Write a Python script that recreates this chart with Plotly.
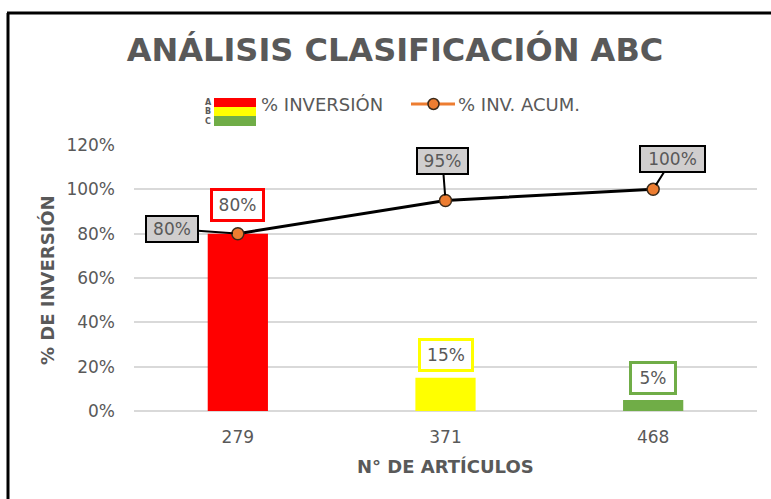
import plotly.graph_objects as go

# --- data ---
articulos = ["279", "371", "468"]
pct_inversion = [0.80, 0.15, 0.05]
pct_acumulado = [0.80, 0.95, 1.00]
clases = ["A", "B", "C"]
bar_colors = ["#FF0000", "#FFFF00", "#70AD47"]
y_ticks = [0, 0.2, 0.4, 0.6, 0.8, 1.0, 1.2]

# category slots on a linear axis
pos = list(range(len(articulos)))

W, H = 771, 499
L, R, T, B = 134, 14, 145, 88
PW, PH = W - L - R, H - T - B

def px(x):
    return (x - L) / PW

def py(y):
    return (H - B - y) / PH

GRAY = "#595959"
FONT = "DejaVu Sans"

fig = go.Figure()
fig.add_trace(go.Bar(
    x=pos, y=pct_inversion, marker=dict(color=bar_colors, line=dict(width=0)),
    width=0.29, name="% INVERSIÓN", showlegend=False,
))
fig.add_trace(go.Scatter(
    x=pos, y=pct_acumulado, mode="lines+markers", name="% INV. ACUM.",
    line=dict(color="black", width=3),
    marker=dict(color="#ED7D31", size=12, line=dict(color="#3a2a1a", width=1.5)),
    showlegend=False,
))

# labels on the bars
bar_shift = [12, 6, 5]
bar_box_w = [43, 44, 36]
for x, v, c, s, bw in zip(pos, pct_inversion, bar_colors, bar_shift, bar_box_w):
    fig.add_annotation(
        x=x, y=v, text=f"{v:.0%}", showarrow=False, xanchor="center", yanchor="bottom", yshift=s,
        width=bw, height=22, font=dict(family=FONT, size=17, color=GRAY),
        bgcolor="white", bordercolor=c, borderwidth=3, borderpad=3,
    )

# callout labels on the cumulative line
offsets = [(-66, -5), (-3, -39), (19, -30)]
line_box_w = [46, 45, 59]
for x, v, (ax, ay), bw in zip(pos, pct_acumulado, offsets, line_box_w):
    fig.add_annotation(
        x=x, y=v, text=f"{v:.0%}", showarrow=True, ax=ax, ay=ay,
        arrowhead=0, arrowwidth=2, arrowcolor="black", standoff=5,
        width=bw, height=20, font=dict(family=FONT, size=17, color=GRAY),
        bgcolor="#D0CECE", bordercolor="black", borderwidth=2, borderpad=2,
    )

shapes = []
# outer frame (left and top edges)
shapes.append(dict(type="line", xref="paper", yref="paper", x0=px(8), x1=px(8), y0=py(13), y1=py(H + 5),
                   line=dict(color="black", width=3)))
shapes.append(dict(type="line", xref="paper", yref="paper", x0=px(7), x1=px(W + 5), y0=py(13), y1=py(13),
                   line=dict(color="black", width=3)))

def text_at(x, y, text, size, xanchor="center", angle=0):
    fig.add_annotation(xref="paper", yref="paper", x=px(x), y=py(y), text=text, showarrow=False,
                       xanchor=xanchor, yanchor="middle", textangle=angle,
                       font=dict(family=FONT, size=size, color=GRAY))

# legend: stacked A/B/C swatch
sw_top = [98, 107, 116]
sw_bot = [107, 116, 126]
for c, t0, t1, letter in zip(bar_colors, sw_top, sw_bot, clases):
    shapes.append(dict(type="rect", xref="paper", yref="paper", x0=px(214), x1=px(256), y0=py(t1), y1=py(t0),
                       fillcolor=c, line=dict(width=0)))
    text_at(208, (t0 + t1) / 2, f"<b>{letter}</b>", 8)
text_at(259, 104, "% INVERSIÓN", 18, xanchor="left")

# legend: line with marker
shapes.append(dict(type="line", xref="paper", yref="paper", x0=px(411), x1=px(455), y0=py(104), y1=py(104),
                   line=dict(color="#ED7D31", width=3)))
shapes.append(dict(type="circle", xref="paper", yref="paper", x0=px(428), x1=px(439), y0=py(109.5), y1=py(98.5),
                   fillcolor="#ED7D31", line=dict(color="#3a2a1a", width=1.5)))
text_at(456, 104, "% INV. ACUM.", 18, xanchor="left")

# axis titles
text_at(47, 280, "<b>% DE INVERSIÓN</b>", 18, angle=-90)
text_at(445, 466, "<b>N° DE ARTÍCULOS</b>", 18)

fig.update_layout(
    width=W, height=H, margin=dict(l=L, r=R, t=T, b=B),
    paper_bgcolor="white", plot_bgcolor="white",
    shapes=shapes,
    title=dict(text="<b>ANÁLISIS CLASIFICACIÓN ABC</b>", x=395 / W, xanchor="center", y=1 - 50 / H,
               yanchor="middle", font=dict(family=FONT, size=32, color=GRAY)),
    xaxis=dict(range=[-0.5, len(articulos) - 0.5], tickvals=pos, ticktext=articulos,
               showgrid=False, showline=False, zeroline=False, ticks="", ticklabelstandoff=14,
               tickfont=dict(family=FONT, size=17, color=GRAY)),
    yaxis=dict(range=[0, 1.2], tickvals=y_ticks, tickformat=".0%", showgrid=True, gridcolor="#D9D9D9", gridwidth=1.5,
               zeroline=True, zerolinecolor="#D9D9D9", zerolinewidth=1.5, showline=False, ticks="",
               ticklabelstandoff=18, tickfont=dict(family=FONT, size=17, color=GRAY)),
)

fig.write_html("out.html")
